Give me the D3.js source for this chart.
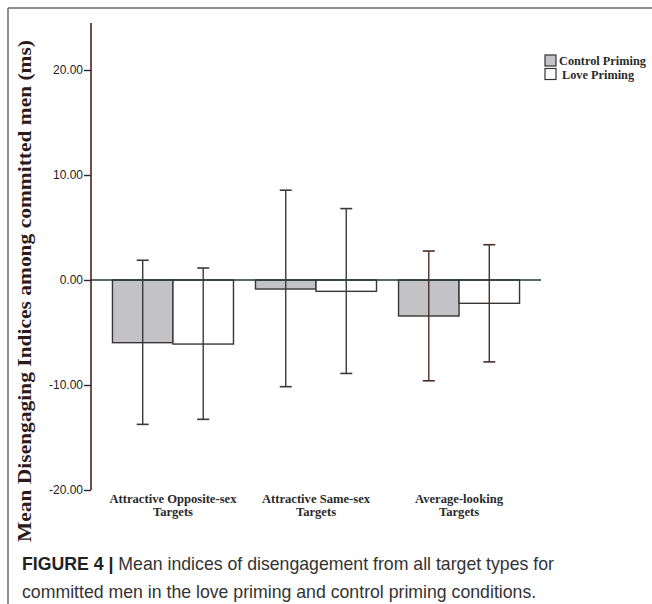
<!DOCTYPE html>
<html>
<head>
<meta charset="utf-8">
<script src="https://cdn.jsdelivr.net/npm/d3@7"></script>
<style>
  html, body { margin: 0; padding: 0; background: #fff; }
  svg { display: block; }
</style>
</head>
<body>
<svg id="chart" width="652" height="604"></svg>
<script>
// ---- data ----
const categories = [
  ["Attractive Opposite-sex", "Targets"],
  ["Attractive Same-sex", "Targets"],
  ["Average-looking", "Targets"]
];
const seriesNames = ["Control Priming", "Love Priming"];
const controlMeans = [-5.97, -0.86, -3.43];
const loveMeans    = [-6.10, -1.08, -2.22];
const controlUpper = [1.88, 8.55, 2.76];
const controlLower = [-13.75, -10.16, -9.60];
const loveUpper    = [1.14, 6.80, 3.36];
const loveLower    = [-13.27, -8.90, -7.80];
const yTicks = [-20, -10, 0, 10, 20];
const yTitle = "Mean Disengaging Indices among committed men (ms)";
const captionBold = "FIGURE 4 |";
const captionLine1 = " Mean indices of disengagement from all target types for";
const captionLine2 = "committed men in the love priming and control priming conditions.";

const svg = d3.select("#chart");

// frame
svg.append("line").attr("x1", 8).attr("y1", 8).attr("x2", 652).attr("y2", 8)
  .attr("stroke", "#6a6a6a").attr("stroke-width", 1.5);
svg.append("line").attr("x1", 8).attr("y1", 8).attr("x2", 8).attr("y2", 604)
  .attr("stroke", "#6a6a6a").attr("stroke-width", 1.5);

const plotLeft = 91, plotRight = 541;
const y = d3.scaleLinear().domain([-20, 20]).range([490, 70]);
const x0 = d3.scaleBand().domain(d3.range(categories.length)).range([plotLeft, plotRight]).paddingInner(0.154).paddingOuter(0.15);
const x1 = d3.scaleBand().domain([0, 1]).range([0, x0.bandwidth()]);

const series = [
  { name: seriesNames[0], means: controlMeans, up: controlUpper, lo: controlLower, fill: "#c3c3c5" },
  { name: seriesNames[1], means: loveMeans, up: loveUpper, lo: loveLower, fill: "#ffffff" }
];

// bars
series.forEach((s, si) => {
  svg.append("g").selectAll("rect").data(s.means).join("rect")
    .attr("x", (d, i) => x0(i) + x1(si))
    .attr("y", d => y(Math.max(0, d)))
    .attr("width", x1.bandwidth())
    .attr("height", d => Math.abs(y(d) - y(0)))
    .attr("fill", s.fill)
    .attr("stroke", "#3a3535")
    .attr("stroke-width", 1.4);
});

// zero line
svg.append("line")
  .attr("x1", plotLeft).attr("x2", plotRight)
  .attr("y1", y(0)).attr("y2", y(0))
  .attr("stroke", "#23383a").attr("stroke-width", 1.4);

// error bars
const capW = 12;
series.forEach((s, si) => {
  const g = svg.append("g");
  s.means.forEach((m, i) => {
    const cx = x0(i) + x1(si) + x1.bandwidth() / 2;
    const col = i === 2 ? "#4a2e28" : "#3a3a3a";
    g.append("line").attr("x1", cx).attr("x2", cx).attr("y1", y(s.up[i])).attr("y2", y(s.lo[i]))
      .attr("stroke", col).attr("stroke-width", 1.4);
    [s.up[i], s.lo[i]].forEach(v => {
      g.append("line").attr("x1", cx - capW / 2).attr("x2", cx + capW / 2)
        .attr("y1", y(v)).attr("y2", y(v))
        .attr("stroke", col).attr("stroke-width", 1.6);
    });
  });
});

// y axis
const yAxis = d3.axisLeft(y).tickValues(yTicks).tickSize(7).tickSizeOuter(0)
  .tickFormat(d => d3.format(".2f")(d).replace("\u2212", "-"));
const ga = svg.append("g").attr("transform", `translate(${plotLeft},0)`).call(yAxis);
ga.select(".domain").remove();
ga.selectAll(".tick line").attr("stroke", "#3a2422").attr("stroke-width", 1.4);
ga.selectAll(".tick text").attr("font-family", "Liberation Sans, Arial, sans-serif")
  .attr("font-size", 12).attr("fill", "#222").attr("x", -8);
svg.append("line").attr("x1", plotLeft).attr("x2", plotLeft)
  .attr("y1", 23).attr("y2", y(-20))
  .attr("stroke", "#4a2220").attr("stroke-width", 1.6);

// y title
svg.append("text")
  .attr("transform", `translate(31, 291) rotate(-90)`)
  .attr("text-anchor", "middle")
  .attr("font-family", "Liberation Serif, Times New Roman, serif")
  .attr("font-weight", "bold")
  .attr("font-size", 18.5)
  .attr("textLength", 502)
  .attr("lengthAdjust", "spacingAndGlyphs")
  .attr("fill", "#2a1a1a")
  .text(yTitle);

// category labels
categories.forEach((c, i) => {
  const cx = x0(i) + x0.bandwidth() / 2;
  const t = svg.append("text")
    .attr("text-anchor", "middle")
    .attr("font-family", "Liberation Serif, Times New Roman, serif")
    .attr("font-weight", "bold")
    .attr("font-size", 12.6)
    .attr("fill", "#2a2a2a");
  c.forEach((line, li) => {
    t.append("tspan").attr("x", cx).attr("y", 503 + li * 13).text(line);
  });
});

// legend
series.forEach((s, si) => {
  const ly = 55 + si * 13.5;
  svg.append("rect").attr("x", 545).attr("y", ly).attr("width", 11).attr("height", 11)
    .attr("fill", s.fill).attr("stroke", "#333").attr("stroke-width", 1.2);
  svg.append("text").attr("x", si === 0 ? 559 : 562).attr("y", ly + 10)
    .attr("font-family", "Liberation Serif, Times New Roman, serif")
    .attr("font-weight", "bold")
    .attr("font-size", 12.3)
    .attr("fill", "#2a2a2a")
    .text(s.name);
});

// caption
const cap = svg.append("text").attr("x", 22).attr("y", 570)
  .attr("font-family", "Liberation Sans, Arial, sans-serif")
  .attr("font-size", 17.7).attr("fill", "#333");
cap.append("tspan").attr("font-weight", "bold").attr("fill", "#222").text(captionBold);
cap.append("tspan").text(captionLine1);
svg.append("text").attr("x", 22).attr("y", 598)
  .attr("font-family", "Liberation Sans, Arial, sans-serif")
  .attr("font-size", 17.7).attr("fill", "#333")
  .text(captionLine2);
</script>
</body>
</html>
